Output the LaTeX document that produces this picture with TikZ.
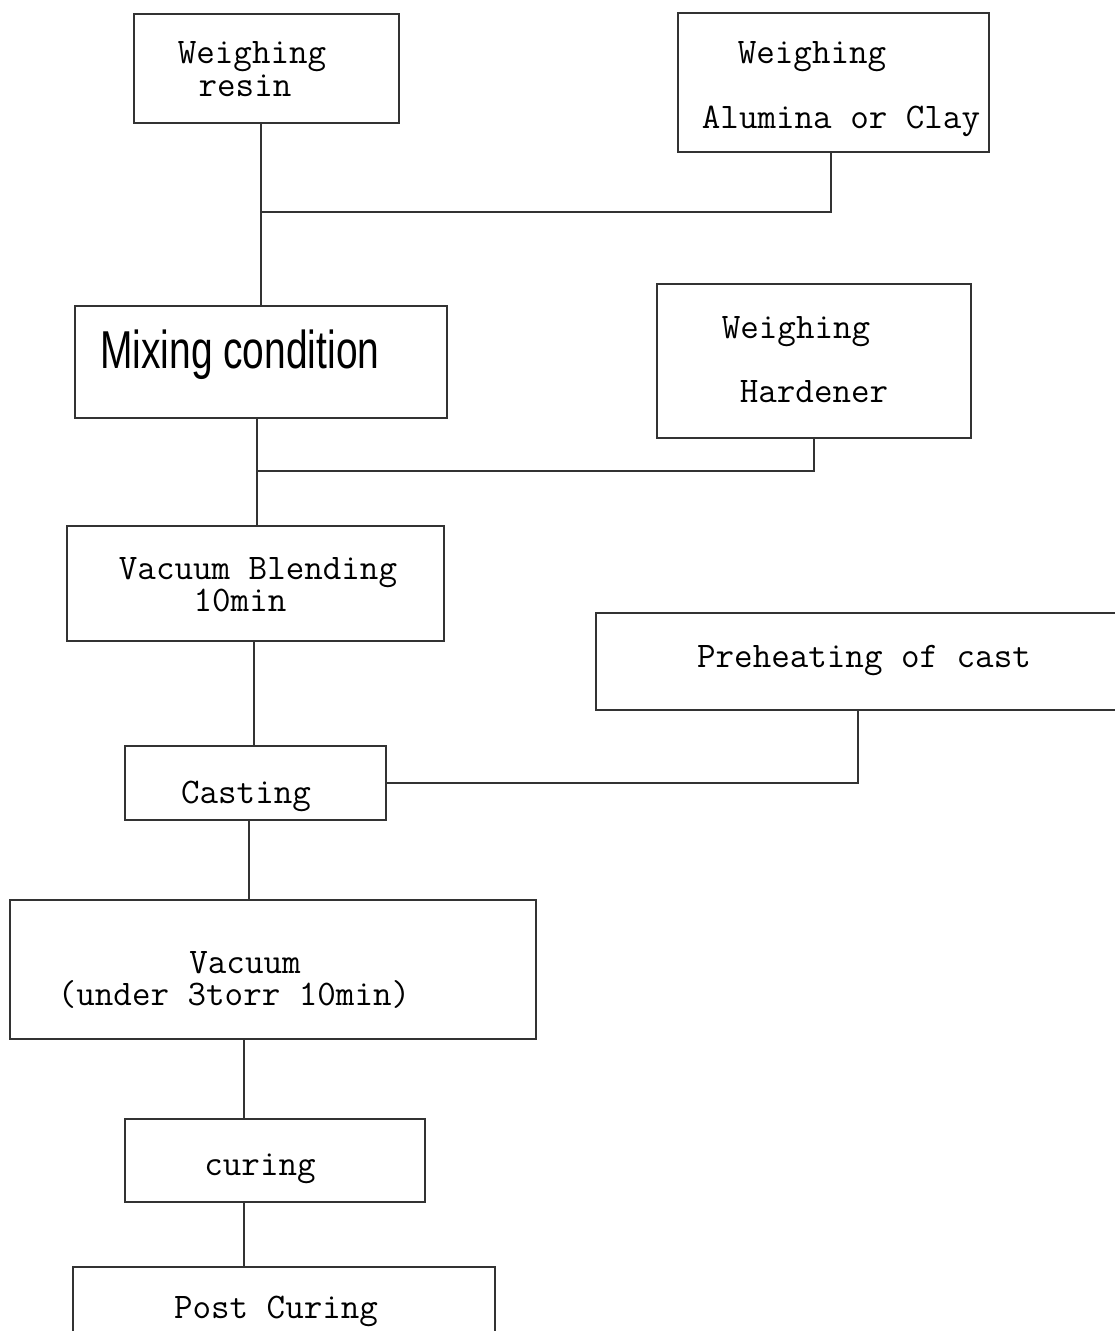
\documentclass[tikz,border=0pt]{standalone}
\usepackage{fontspec}
\usepackage{graphicx}
\newfontfamily\sansfnt{Liberation Sans}
\begin{document}
\begin{tikzpicture}[x=0.75pt,y=-0.75pt,
  box/.style={draw=black!80, line width=1.3pt, fill=white, anchor=north west, inner sep=0pt},
  lbl/.style={font=\ttfamily\fontsize{27}{31}\selectfont, text=black, inner sep=0pt, anchor=base},
  conn/.style={draw=black!80, line width=1.3pt}
]
\useasboundingbox (0,0) rectangle (1114,1331);
\fill[white] (0,0) rectangle (1114,1331);

% columns for connectors
\coordinate (c1) at (261,0);
\coordinate (c2) at (257,0);
\coordinate (c3) at (254,0);
\coordinate (c4) at (249,0);
\coordinate (c5) at (244,0);
\coordinate (c6) at (831,0);
\coordinate (c7) at (814,0);
\coordinate (c8) at (858,0);
\coordinate (y1) at (0,212);
\coordinate (y2) at (0,471);

% boxes
\node[box, minimum width=265*0.75pt, minimum height=109*0.75pt] (r) at (133,13) {};
\node[box, minimum width=311*0.75pt, minimum height=139*0.75pt] (a) at (677,12) {};
\node[box, line width=1.8pt, minimum width=372*0.75pt, minimum height=112*0.75pt] (m) at (74,305) {};
\node[box, minimum width=314*0.75pt, minimum height=154*0.75pt] (h) at (656,283) {};
\node[box, minimum width=377*0.75pt, minimum height=115*0.75pt] (vb) at (66,525) {};
\node[box, minimum width=540*0.75pt, minimum height=97*0.75pt] (p) at (595,612) {};
\node[box, minimum width=261*0.75pt, minimum height=74*0.75pt] (c) at (124,745) {};
\node[box, minimum width=526*0.75pt, minimum height=139*0.75pt] (v) at (9,899) {};
\node[box, minimum width=300*0.75pt, minimum height=83*0.75pt] (cu) at (124,1118) {};
\node[box, minimum width=422*0.75pt, minimum height=90*0.75pt] (pc) at (72,1266) {};

% labels
\node[lbl] (rt1) at (252,64) {Weighing};
\node[lbl] (rt2) at (245,97) {resin};
\node[lbl] (at1) at (812,64) {Weighing};
\node[lbl] (at2) at (841,128) {Alumina or Clay};
\node[lbl] (ht1) at (796,338) {Weighing};
\node[lbl] (ht2) at (814,402) {Hardener};
\node[inner sep=0pt, anchor=base west, text=black] (mt) at (100,368)
  {\scalebox{0.73}[1]{\sansfnt\fontsize{40}{48}\selectfont Mixing condition}};
\node[lbl] (vbt1) at (258,579) {Vacuum Blending};
\node[lbl] (vbt2) at (240,611) {10min};
\node[lbl] (pt) at (864,667) {Preheating of cast};
\node[lbl] (ct) at (246,803) {Casting};
\node[lbl] (vt1) at (245,973) {Vacuum};
\node[lbl] (vt2) at (234,1005) {(under 3torr 10min)};
\node[lbl] (cut) at (260,1175) {curing};
\node[lbl] (pct) at (276,1318) {Post Curing};

% connectors
\draw[conn] (r.south -| c1) -- (m.north -| c1);
\draw[conn] (a.south -| c6) |- (y1 -| c1);
\draw[conn] (m.south -| c2) -- (vb.north -| c2);
\draw[conn] (h.south -| c7) |- (y2 -| c2);
\draw[conn] (vb.south -| c3) -- (c.north -| c3);
\draw[conn] (p.south -| c8) |- (c.east);
\draw[conn] (c.south -| c4) -- (v.north -| c4);
\draw[conn] (v.south -| c5) -- (cu.north -| c5);
\draw[conn] (cu.south -| c5) -- (pc.north -| c5);
\end{tikzpicture}
\end{document}
